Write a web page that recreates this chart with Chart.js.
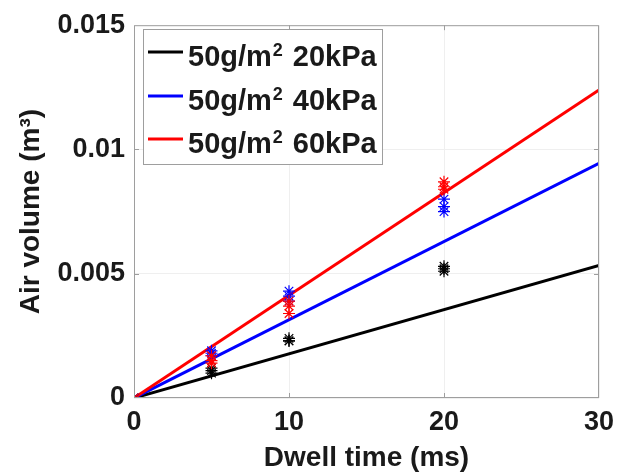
<!DOCTYPE html>
<html>
<head>
<meta charset="utf-8">
<script src="https://cdn.jsdelivr.net/npm/chart.js@4.4.1/dist/chart.umd.min.js"></script>
<style>
  body { margin: 0; background: #fff; }
  canvas { display: block; }
</style>
</head>
<body>
<canvas id="myChart" width="624" height="475"></canvas>
<script>
// measured dwell times (ms) and air volume (m^3) for each pressure
const dwellX = [0, 5, 5, 5, 10, 10, 10, 20, 20, 20];
const vol20kPa = [0, 0.0012, 0.0011, 0.0010, 0.0024, 0.0023, 0.0023, 0.0053, 0.0052, 0.0051];
const vol40kPa = [0, 0.0019, 0.0018, 0.0017, 0.0043, 0.0041, 0.0039, 0.0080, 0.0077, 0.0075];
const vol60kPa = [0, 0.0017, 0.0015, 0.0014, 0.0039, 0.0037, 0.0034, 0.0087, 0.0085, 0.0084];

// fitted lines through origin
const fitX = [0, 30];
const fit20kPa = [0, 0.00533];
const fit40kPa = [0, 0.00944];
const fit60kPa = [0, 0.01239];

const seriesNames = ['20kPa', '40kPa', '60kPa'];
const seriesColors = ['#000000', '#0000ff', '#ff0000'];

const xTicks = [0, 10, 20, 30];
const yTickLabels = ['0', '0.005', '0.01', '0.015'];

function toPts(xs, ys) {
    return xs.map((x, i) => ({x: x, y: ys[i]}));
}

const FONT = '"Liberation Sans", Arial, sans-serif';
const TEXT = '#1a1a1a';
const BOX = '#9e9e9e';

function markers(ys, color) {
    return {
        data: toPts(dwellX, ys),
        showLine: false,
        pointStyle: 'star',
        pointRadius: 6,
        borderColor: color,
        backgroundColor: color,
        pointBorderWidth: 1.2
    };
}

function fitLine(ys, color) {
    return {
        data: toPts(fitX, ys),
        showLine: true,
        pointRadius: 0,
        borderColor: color,
        borderWidth: 3,
        fill: false
    };
}

// axes box, inward ticks and the legend (MATLAB style, inside the plot)
const boxAndLegend = {
    id: 'boxAndLegend',
    afterDraw(chart) {
        const ctx = chart.ctx;
        const a = chart.chartArea;
        const xs = chart.scales.x, ys = chart.scales.y;
        ctx.save();
        ctx.strokeStyle = BOX;
        ctx.lineWidth = 1;
        ctx.strokeRect(a.left + 0.5, a.top + 0.5, a.right - a.left - 1, a.bottom - a.top - 1);

        ctx.beginPath();
        [10, 20].forEach(v => {
            const px = Math.round(xs.getPixelForValue(v)) + 0.5;
            ctx.moveTo(px, a.bottom); ctx.lineTo(px, a.bottom - 5);
            ctx.moveTo(px, a.top); ctx.lineTo(px, a.top + 5);
        });
        [0.005, 0.01].forEach(v => {
            const py = Math.round(ys.getPixelForValue(v)) + 0.5;
            ctx.moveTo(a.left, py); ctx.lineTo(a.left + 5, py);
            ctx.moveTo(a.right, py); ctx.lineTo(a.right - 5, py);
        });
        ctx.stroke();

        // legend
        const lx = 143, ly = 29, lw = 239, lh = 135;
        ctx.fillStyle = '#fff';
        ctx.fillRect(lx, ly, lw, lh);
        ctx.strokeStyle = BOX;
        ctx.strokeRect(lx + 0.5, ly + 0.5, lw, lh);

        const rowsY = [52, 96, 139];
        seriesNames.forEach((name, i) => {
            const y = rowsY[i];
            ctx.strokeStyle = seriesColors[i];
            ctx.lineWidth = 3;
            ctx.beginPath();
            ctx.moveTo(148, y);
            ctx.lineTo(183, y);
            ctx.stroke();

            const base = y + 14;
            ctx.fillStyle = TEXT;
            ctx.textBaseline = 'alphabetic';
            ctx.textAlign = 'left';
            ctx.font = 'bold 29px ' + FONT;
            ctx.fillText('50g/m', 188, base);
            let x = 188 + ctx.measureText('50g/m').width + 1;
            ctx.font = 'bold 18px ' + FONT;
            ctx.fillText('2', x, base - 10);
            x += ctx.measureText('2').width + 10;
            ctx.font = 'bold 29px ' + FONT;
            ctx.fillText(name, x, base);
        });
        ctx.restore();
    }
};

const ctx = document.getElementById('myChart').getContext('2d');
const myChart = new Chart(ctx, {
    type: 'scatter',
    data: {
        datasets: [
            markers(vol60kPa, seriesColors[2]),
            markers(vol40kPa, seriesColors[1]),
            markers(vol20kPa, seriesColors[0]),
            fitLine(fit60kPa, seriesColors[2]),
            fitLine(fit40kPa, seriesColors[1]),
            fitLine(fit20kPa, seriesColors[0])
        ]
    },
    options: {
        responsive: false,
        animation: false,
        devicePixelRatio: 1,
        layout: { padding: { left: 0, right: 25, top: 21, bottom: 0 } },
        plugins: {
            legend: { display: false },
            tooltip: { enabled: false }
        },
        scales: {
            x: {
                type: 'linear',
                min: 0,
                max: 30,
                afterFit(scale) { scale.height = 77; },
                afterBuildTicks(scale) { scale.ticks = xTicks.map(v => ({value: v})); },
                grid: { color: '#efefef', drawTicks: false },
                border: { display: false },
                ticks: {
                    padding: 8,
                    color: TEXT,
                    font: { family: FONT, size: 27, weight: 'bold' },
                    callback: v => String(v)
                },
                title: {
                    display: true,
                    text: 'Dwell time (ms)',
                    color: TEXT,
                    padding: { top: 0, bottom: 0 },
                    font: { family: FONT, size: 28, weight: 'bold' }
                }
            },
            y: {
                type: 'linear',
                min: 0,
                max: 0.015,
                afterFit(scale) { scale.width = 134; },
                afterBuildTicks(scale) { scale.ticks = yTickLabels.map(t => ({value: Number(t)})); },
                grid: { color: '#efefef', drawTicks: false },
                border: { display: false },
                ticks: {
                    padding: 9,
                    color: TEXT,
                    font: { family: FONT, size: 27, weight: 'bold' },
                    callback: (v, i) => yTickLabels[i]
                },
                title: {
                    display: true,
                    text: 'Air volume (m³)',
                    color: TEXT,
                    padding: { top: 14, bottom: 0 },
                    font: { family: FONT, size: 28, weight: 'bold' }
                }
            }
        }
    },
    plugins: [boxAndLegend]
});
</script>
</body>
</html>
